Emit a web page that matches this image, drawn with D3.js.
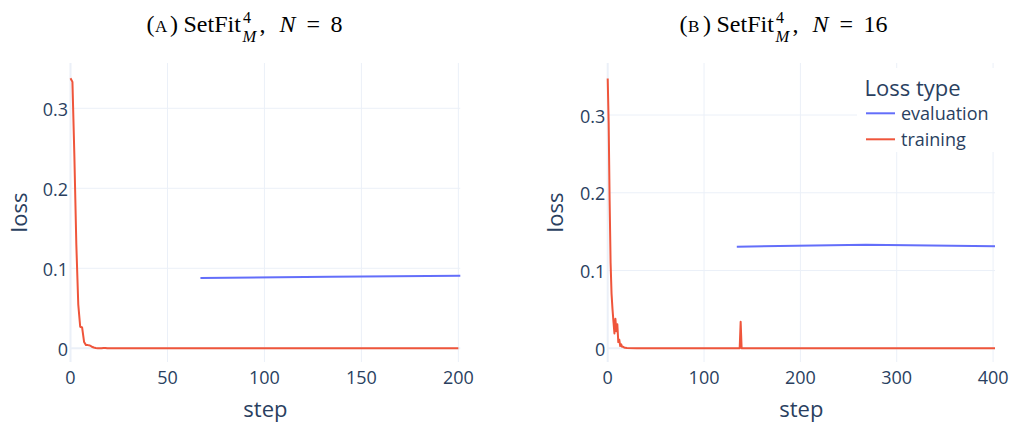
<!DOCTYPE html>
<html lang="en">
<head>
<meta charset="UTF-8">
<title>SetFit loss curves</title>
<script src="https://d3js.org/d3.v7.min.js"></script>
<style>
    body { margin: 0; background: #fff; }
    svg { display: block; }
    .tick-label { font-family: "Open Sans", sans-serif; font-size: 18px; fill: #2a3f5f; }
    .axis-title { font-family: "Open Sans", sans-serif; font-size: 22px; fill: #2a3f5f; }
    .caption { font-family: "Liberation Serif", "DejaVu Serif", serif; fill: #000; }
</style>
</head>
<body>
<svg id="chart" width="1013" height="423"></svg>
<script>
// ---- data ----
// panel A: N = 8
const stepsTrainA = [0, 1, 2, 3, 4, 5, 6, 7, 8, 9, 10, 11, 12, 13, 14, 16, 17, 18, 19, 21, 25, 50, 100, 150, 200];
const lossTrainA  = [0.3375, 0.333, 0.24, 0.13, 0.055, 0.027, 0.026, 0.008, 0.004, 0.004, 0.0035, 0.002, 0.001, 0.0004,
                     0.0002, 0.0002, 0.0005, 0.0005, 0.0002, 0.0002, 0.0001, 0.0001, 0.0001, 0.0001, 0.0001];
const stepsEvalA  = [67, 134, 201];
const lossEvalA   = [0.0879, 0.0894, 0.0908];

// panel B: N = 16
const stepsTrainB = [0, 1, 2, 3, 4, 5, 6, 7, 8, 9, 10, 11, 12, 13, 14, 15, 16, 17, 18, 20, 30, 60, 100, 130, 137, 138, 139, 150, 200, 300, 402];
const lossTrainB  = [0.347, 0.29, 0.19, 0.11, 0.07, 0.05, 0.034, 0.019, 0.038, 0.022, 0.031, 0.008, 0.011, 0.003, 0.005,
                     0.002, 0.002, 0.001, 0.0006, 0.0003, 0.0002, 0.0001, 0.0001, 0.0001, 0.0002, 0.034, 0.0002, 0.0001, 0.0001, 0.0001, 0.0001];
const stepsEvalB  = [134, 268, 402];
const lossEvalB   = [0.1306, 0.1332, 0.1311];

const xTicksA = [0, 50, 100, 150, 200];
const xTicksB = [0, 100, 200, 300, 400];
const yTicks  = [0, 0.1, 0.2, 0.3];

const seriesNames = ["evaluation", "training"];
const seriesColors = ["#636efa", "#ef553b"];

const svg = d3.select("#chart");
const gridColor = "#ebf0f8";

function drawPanel(opt) {
    const x = d3.scaleLinear().domain(opt.xDomain).range([opt.left, opt.right]);
    const y = d3.scaleLinear().domain(opt.yDomain).range([opt.bottom, opt.top]);
    const g = svg.append("g");

    // grid
    g.selectAll(".vgrid").data(opt.xTicks.filter(d => d !== 0)).enter().append("line")
        .attr("x1", d => x(d)).attr("x2", d => x(d))
        .attr("y1", opt.top).attr("y2", opt.bottom)
        .attr("stroke", gridColor).attr("stroke-width", 1);
    g.selectAll(".hgrid").data(yTicks.filter(d => d !== 0)).enter().append("line")
        .attr("x1", opt.left).attr("x2", opt.right)
        .attr("y1", d => y(d)).attr("y2", d => y(d))
        .attr("stroke", gridColor).attr("stroke-width", 1);
    // zero lines
    g.append("line").attr("x1", x(0)).attr("x2", x(0)).attr("y1", opt.top).attr("y2", opt.bottom)
        .attr("stroke", gridColor).attr("stroke-width", 2);
    g.append("line").attr("x1", opt.left).attr("x2", opt.right).attr("y1", y(0)).attr("y2", y(0))
        .attr("stroke", gridColor).attr("stroke-width", 2);

    // tick labels
    g.selectAll(".xl").data(opt.xTicks).enter().append("text")
        .attr("class", "tick-label")
        .attr("x", d => x(d)).attr("y", opt.bottom + 21.5)
        .attr("text-anchor", "middle")
        .text(d => d);
    g.selectAll(".yl").data(yTicks).enter().append("text")
        .attr("class", "tick-label")
        .attr("x", opt.left - 2.5).attr("y", d => y(d) + 7.5)
        .attr("text-anchor", "end")
        .text(d => d === 0 ? "0" : d3.format(".1f")(d));

    // axis titles
    g.append("text").attr("class", "axis-title")
        .attr("x", (opt.left + opt.right) / 2).attr("y", 416.5)
        .attr("text-anchor", "middle").text("step");
    g.append("text").attr("class", "axis-title")
        .attr("transform", `translate(${opt.yTitleX},${(opt.top + opt.bottom) / 2}) rotate(-90)`)
        .attr("text-anchor", "middle").text("loss");

    // traces
    const line = d3.line().x(d => x(d[0])).y(d => y(d[1]));
    g.append("path")
        .datum(d3.zip(opt.evalSteps, opt.evalLoss))
        .attr("d", line).attr("fill", "none")
        .attr("stroke", seriesColors[0]).attr("stroke-width", 2);
    g.append("path")
        .datum(d3.zip(opt.trainSteps, opt.trainLoss))
        .attr("d", line).attr("fill", "none")
        .attr("stroke", seriesColors[1]).attr("stroke-width", 2)
        .attr("stroke-linejoin", "round");
}

drawPanel({
    left: 70.5, right: 460.3, top: 63, bottom: 362,
    xDomain: [0, 201], yDomain: [-0.0171, 0.3566],
    xTicks: xTicksA, yTitleX: 26.5,
    trainSteps: stepsTrainA, trainLoss: lossTrainA,
    evalSteps: stepsEvalA, evalLoss: lossEvalA
});
drawPanel({
    left: 607.7, right: 995, top: 63, bottom: 362,
    xDomain: [0, 402], yDomain: [-0.0176, 0.3669],
    xTicks: xTicksB, yTitleX: 563.3,
    trainSteps: stepsTrainB, trainLoss: lossTrainB,
    evalSteps: stepsEvalB, evalLoss: lossEvalB
});

// legend (drawn over panel B, white background like plotly)
const legend = svg.append("g");
legend.append("rect").attr("x", 857).attr("y", 68).attr("width", 150).attr("height", 84).attr("fill", "#fff");
legend.append("text").attr("class", "axis-title").attr("x", 864.5).attr("y", 96).text("Loss type");
const items = legend.selectAll(".item").data(seriesNames).enter().append("g")
    .attr("transform", (d, i) => `translate(0,${113.3 + i * 26})`);
items.append("line").attr("x1", 866).attr("x2", 895).attr("y1", 0).attr("y2", 0)
    .attr("stroke", (d, i) => seriesColors[i]).attr("stroke-width", 2);
items.append("text").attr("class", "tick-label").attr("x", 901).attr("y", 6.5).text(d => d);

// subfigure captions: one text, LaTeX-like pieces placed with tspans
// [text, x offset, font size, italic, baseline shift]
function caption(x0, baseline, letter, n) {
    const pieces = [
        ["(", 0, 24, false, 0],
        [letter, 8.5, 17, false, 0],
        [")", 23.5, 24, false, 0],
        ["SetFit", 37, 24, false, 0],
        ["4", 96.5, 16, false, -9],
        ["M", 96, 16.5, true, 9.5],
        [",", 113, 24, false, 0],
        ["N", 133, 24, true, 0],
        ["=", 160, 24, false, 0],
        [String(n), 184, 24, false, 0]
    ];
    svg.append("text").attr("class", "caption")
        .selectAll("tspan").data(pieces).enter().append("tspan")
        .attr("x", d => x0 + d[1])
        .attr("y", d => baseline + d[4])
        .style("font-size", d => d[2] + "px")
        .style("font-style", d => d[3] ? "italic" : "normal")
        .text(d => d[0]);
}
caption(146.5, 32, "A", 8);
caption(679.5, 32, "B", 16);
</script>
</body>
</html>
